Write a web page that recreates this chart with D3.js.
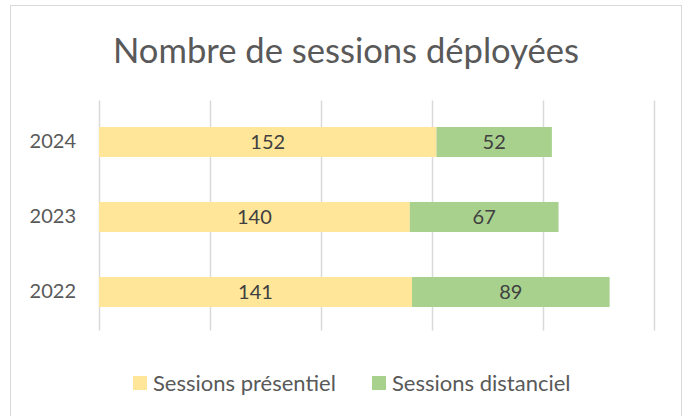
<!DOCTYPE html>
<html>
<head>
<meta charset="utf-8">
<script src="https://cdn.jsdelivr.net/npm/d3@7"></script>
<style>
  body { margin: 0; background: #fff; }
  text { font-family: Lato, "Open Sans", sans-serif; }
</style>
</head>
<body>
<div id="chart"></div>
<script>
// data
var years = ["2024", "2023", "2022"];
var presentiel = [152, 140, 141];
var distanciel = [52, 67, 89];
var seriesNames = ["Sessions présentiel", "Sessions distanciel"];
var seriesColors = ["#FFE699", "#A9D18E"];
var gridTicks = [0, 50, 100, 150, 200, 250];

var W = 686, H = 416;
var margin = { top: 104.5, right: 32, bottom: 86.5, left: 99 };
var width = W - margin.left - margin.right;
var height = H - margin.top - margin.bottom;

var svg = d3.select("#chart").append("svg")
  .attr("width", W)
  .attr("height", H);

// chart frame
svg.append("rect")
  .attr("x", 10.5).attr("y", 5.5)
  .attr("width", 671).attr("height", 420)
  .attr("fill", "#fff")
  .attr("stroke", "#D9D9D9");

// title
svg.append("text")
  .attr("x", 346).attr("y", 63)
  .attr("text-anchor", "middle")
  .attr("font-size", 34.6)
  .attr("fill", "#595959")
  .text("Nombre de sessions déployées");

var g = svg.append("g")
  .attr("transform", "translate(" + margin.left + "," + margin.top + ")");

var x = d3.scaleLinear().domain([0, 250]).range([0, width]);
var y = d3.scaleBand().domain(years).range([0, height])
  .paddingInner(0.6).paddingOuter(0.3);

// vertical grid
g.selectAll(".grid")
  .data(gridTicks)
  .enter().append("line")
  .attr("x1", d => Math.round(x(d)) + 0.5)
  .attr("x2", d => Math.round(x(d)) + 0.5)
  .attr("y1", -4)
  .attr("y2", height + 1)
  .attr("stroke", "#D9D9D9")
  .attr("stroke-width", 1.5);

// stacked data
var rows = years.map((yr, i) => ({ year: yr, a: presentiel[i], b: distanciel[i] }));
var stack = d3.stack().keys(["a", "b"])(rows);

var layers = g.selectAll(".layer")
  .data(stack)
  .enter().append("g")
  .attr("fill", (d, i) => seriesColors[i]);

layers.selectAll("rect")
  .data(d => d)
  .enter().append("rect")
  .attr("x", d => x(d[0]))
  .attr("y", d => y(d.data.year))
  .attr("width", d => x(d[1]) - x(d[0]))
  .attr("height", y.bandwidth());

// data labels
layers.selectAll(".lbl")
  .data(d => d)
  .enter().append("text")
  .attr("x", d => (x(d[0]) + x(d[1])) / 2)
  .attr("y", d => y(d.data.year) + y.bandwidth() / 2)
  .attr("dy", "0.36em")
  .attr("text-anchor", "middle")
  .attr("font-size", 20)
  .attr("fill", "#404040")
  .text(d => d[1] - d[0]);

// category axis labels
var yAxis = g.append("g")
  .call(d3.axisLeft(y).tickSize(0).tickPadding(23));
yAxis.select(".domain").remove();
yAxis.selectAll("text")
  .attr("font-size", 20)
  .attr("font-family", "Lato, 'Open Sans', sans-serif")
  .attr("fill", "#595959");

// legend
var legendX = [133, 372];
var legend = svg.selectAll(".legend")
  .data(seriesNames)
  .enter().append("g")
  .attr("transform", (d, i) => "translate(" + legendX[i] + ",376)");
legend.append("rect")
  .attr("width", 14).attr("height", 14)
  .attr("fill", (d, i) => seriesColors[i]);
legend.append("text")
  .attr("x", 20).attr("y", 7)
  .attr("dy", "0.36em")
  .attr("font-size", 22)
  .attr("fill", "#595959")
  .text(d => d);
</script>
</body>
</html>
